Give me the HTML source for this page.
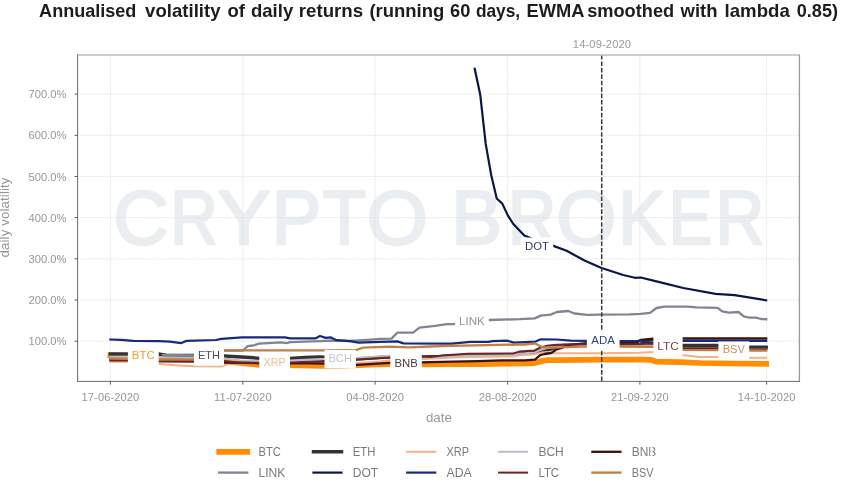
<!DOCTYPE html>
<html lang="en"><head><meta charset="utf-8">
<title>Annualised volatility of daily returns</title>
<style>html,body{margin:0;padding:0;background:#fff}svg{display:block;will-change:transform;opacity:0.999}text{font-family:"Liberation Sans", sans-serif}</style></head><body>
<svg width="841" height="489" viewBox="0 0 841 489">
<rect x="0" y="0" width="841" height="489" fill="#ffffff"/>
<text id="title" y="17" font-size="18.2" font-weight="bold" fill="#1c1c1c"><tspan x="39.10" textLength="97.30" lengthAdjust="spacingAndGlyphs">Annualised</tspan> <tspan x="145.10" textLength="75.40" lengthAdjust="spacingAndGlyphs">volatility</tspan> <tspan x="227.50" textLength="17.40" lengthAdjust="spacingAndGlyphs">of</tspan> <tspan x="251.00" textLength="42.20" lengthAdjust="spacingAndGlyphs">daily</tspan> <tspan x="298.80" textLength="64.30" lengthAdjust="spacingAndGlyphs">returns</tspan> <tspan x="369.40" textLength="74.90" lengthAdjust="spacingAndGlyphs">(running</tspan> <tspan x="450.00" textLength="20.30" lengthAdjust="spacingAndGlyphs">60</tspan> <tspan x="475.90" textLength="44.30" lengthAdjust="spacingAndGlyphs">days,</tspan> <tspan x="526.50" textLength="57.20" lengthAdjust="spacingAndGlyphs">EWMA</tspan> <tspan x="587.20" textLength="87.00" lengthAdjust="spacingAndGlyphs">smoothed</tspan> <tspan x="680.60" textLength="36.90" lengthAdjust="spacingAndGlyphs">with</tspan> <tspan x="724.60" textLength="65.20" lengthAdjust="spacingAndGlyphs">lambda</tspan> <tspan x="796.80" textLength="41.20" lengthAdjust="spacingAndGlyphs">0.85)</tspan></text>
<text y="244.3" font-size="75.5" fill="#eaeef1" stroke="#eaeef1" stroke-width="2.4" stroke-linejoin="round"><tspan x="113.50" textLength="55.10" lengthAdjust="spacingAndGlyphs">C</tspan><tspan x="170.33" textLength="47.61" lengthAdjust="spacingAndGlyphs">R</tspan><tspan x="217.65" textLength="52.64" lengthAdjust="spacingAndGlyphs">Y</tspan><tspan x="271.83" textLength="49.63" lengthAdjust="spacingAndGlyphs">P</tspan><tspan x="322.81" textLength="43.26" lengthAdjust="spacingAndGlyphs">T</tspan><tspan x="366.72" textLength="61.04" lengthAdjust="spacingAndGlyphs">O</tspan> <tspan x="451.15" textLength="50.75" lengthAdjust="spacingAndGlyphs">B</tspan><tspan x="507.98" textLength="48.43" lengthAdjust="spacingAndGlyphs">R</tspan><tspan x="556.42" textLength="59.96" lengthAdjust="spacingAndGlyphs">O</tspan><tspan x="618.57" textLength="46.98" lengthAdjust="spacingAndGlyphs">K</tspan><tspan x="668.68" textLength="43.53" lengthAdjust="spacingAndGlyphs">E</tspan><tspan x="715.70" textLength="48.49" lengthAdjust="spacingAndGlyphs">R</tspan></text>
<g stroke="#dedede" stroke-width="0.7" stroke-dasharray="1.7 0.8" fill="none">
<line x1="77.6" y1="94.1" x2="799.4" y2="94.1"/>
<line x1="77.6" y1="135.3" x2="799.4" y2="135.3"/>
<line x1="77.6" y1="176.5" x2="799.4" y2="176.5"/>
<line x1="77.6" y1="217.6" x2="799.4" y2="217.6"/>
<line x1="77.6" y1="258.8" x2="799.4" y2="258.8"/>
<line x1="77.6" y1="300.0" x2="799.4" y2="300.0"/>
<line x1="77.6" y1="341.2" x2="799.4" y2="341.2"/>
<line x1="110.4" y1="55.0" x2="110.4" y2="381.4"/>
<line x1="242.8" y1="55.0" x2="242.8" y2="381.4"/>
<line x1="375.1" y1="55.0" x2="375.1" y2="381.4"/>
<line x1="507.6" y1="55.0" x2="507.6" y2="381.4"/>
<line x1="639.9" y1="55.0" x2="639.9" y2="381.4"/>
<line x1="766.6" y1="55.0" x2="766.6" y2="381.4"/>
</g>
<g fill="none" stroke-linejoin="round" stroke-linecap="square">
<polyline points="110.4,355.3 128.0,356.0 160.0,357.5 194.0,358.5 205.0,359.5 214.0,360.8 224.0,361.5 240.0,362.8 250.0,364.0 260.0,364.8 300.0,365.5 324.0,366.0 340.0,365.8 357.0,365.2 390.0,364.0 422.0,364.5 450.0,364.2 480.0,364.1 505.0,363.6 530.0,363.4 535.3,362.8 539.0,362.0 542.5,360.8 547.0,360.2 560.0,360.1 600.0,359.6 640.0,359.7 651.3,359.8 656.0,361.6 680.0,362.2 700.0,363.0 730.0,363.5 766.2,363.8" stroke="#ff8c00" stroke-width="5.7"/>
<polyline points="110.4,354.0 158.5,354.0 166.0,355.2 194.0,355.4 224.0,356.0 250.0,357.5 260.0,358.5 290.0,358.5 305.0,357.6 320.0,357.0 340.0,358.0 357.0,358.9 390.0,356.8 422.0,357.0 442.0,356.6 468.0,355.3 513.2,354.9 519.2,353.2 535.0,352.3 540.7,350.5 549.7,349.5 555.0,347.3 562.0,345.6 570.0,345.3 586.7,345.1 619.0,345.1 640.0,344.8 646.0,340.6 653.5,339.8 660.0,342.0 668.0,344.5 682.0,345.4 718.0,345.5 748.5,347.2 766.2,347.3" stroke="#333333" stroke-width="3.5"/>
<polyline points="110.4,361.7 128.0,361.8 145.0,362.8 158.5,363.7 175.0,365.2 194.0,366.2 221.0,366.4 230.0,363.6 260.0,363.5 290.0,363.5 324.0,363.4 357.0,363.0 380.0,361.4 390.0,360.2 422.0,359.0 442.0,358.0 468.0,356.9 513.0,356.4 520.0,355.2 525.0,354.9 534.5,354.3 541.0,352.6 548.8,352.1 552.6,353.3 600.0,353.3 640.0,352.7 653.5,352.1 668.0,353.0 682.0,355.1 699.7,357.1 718.0,356.9 748.5,357.7 766.2,357.7" stroke="#f4b183" stroke-width="2"/>
<polyline points="110.4,356.7 128.0,356.7 158.5,357.2 194.0,357.5 224.0,358.5 240.0,360.5 260.0,360.8 290.0,360.5 320.0,359.0 324.0,359.0 357.0,358.0 390.0,355.8 422.0,357.3 442.0,357.0 468.0,355.4 513.2,355.0 519.2,353.6 525.0,353.3 534.5,352.5 540.0,350.0 546.0,348.3 553.0,347.2 560.0,346.4 586.7,345.5 619.0,345.5 653.0,345.0 682.0,347.9 718.0,348.3 748.5,349.3 766.2,349.4" stroke="#b9bdcb" stroke-width="2"/>
<polyline points="110.4,359.5 128.0,359.5 158.5,361.0 194.0,361.3 224.0,362.5 260.0,363.3 310.0,363.3 324.0,363.5 340.0,364.6 357.0,364.8 390.0,362.8 422.0,362.4 430.0,362.1 477.6,361.2 501.3,360.3 525.0,360.4 535.0,359.7 540.2,355.2 544.5,354.0 551.2,353.0 556.4,349.5 561.2,348.1 568.0,345.2 586.7,343.2 619.0,343.2 636.0,343.2 640.7,340.0 646.0,339.3 653.5,338.6 668.0,338.4 682.0,338.5 766.2,338.5" stroke="#3b1212" stroke-width="2.3"/>
<polyline points="163.0,355.0 194.0,355.3 205.0,354.3 214.0,351.6 224.0,350.5 243.0,350.5 247.6,346.2 253.3,345.5 259.0,343.6 280.9,342.4 286.6,343.1 290.4,342.1 320.0,341.2 333.8,340.5 350.0,341.0 367.0,339.8 380.0,338.8 391.5,338.6 397.4,332.6 413.0,332.6 419.5,327.7 435.0,325.8 447.0,324.2 455.0,324.0 471.0,322.0 488.5,320.0 520.0,319.2 534.6,318.4 540.7,315.6 550.7,314.6 556.8,312.0 568.3,311.0 574.4,313.5 587.4,314.9 600.0,314.6 630.0,314.4 640.5,313.8 650.0,312.9 656.6,308.0 664.2,306.6 687.0,306.6 696.6,307.4 717.5,307.8 722.3,311.4 729.0,312.7 738.4,312.0 744.2,316.7 749.9,317.6 755.6,317.6 761.3,319.0 766.2,319.2" stroke="#80858f" stroke-width="2.3"/>
<polyline points="474.7,68.8 480.2,94.4 485.7,143.9 491.2,175.0 496.7,198.5 502.3,203.6 507.8,215.4 513.3,224.0 518.8,229.8 524.3,235.5 537.0,240.7 554.1,246.1 566.6,250.8 585.0,260.8 601.6,268.0 623.2,275.0 634.9,277.8 640.7,277.5 658.5,281.9 683.3,288.0 715.6,293.9 734.6,295.2 766.2,300.3" stroke="#0b1547" stroke-width="2.2"/>
<polyline points="110.4,339.5 121.0,339.8 133.3,340.9 159.0,341.2 170.0,341.7 181.4,343.1 186.2,340.9 215.7,340.0 221.4,338.8 242.3,337.4 285.0,337.4 290.0,338.3 315.7,338.3 320.0,336.0 325.7,337.9 330.9,337.4 336.6,340.2 350.0,341.2 358.5,342.6 380.0,341.9 397.4,341.4 403.5,343.4 451.6,343.6 460.0,342.9 470.0,341.9 488.5,341.9 492.5,341.2 507.0,340.6 513.8,342.6 525.0,342.2 535.5,341.6 540.7,339.3 556.4,339.5 570.7,340.7 586.8,340.9 619.2,341.1 636.9,341.0 640.7,340.3 646.4,343.2 655.0,343.2 668.0,342.0 682.0,340.8 766.2,340.8" stroke="#16297d" stroke-width="2.2"/>
<polyline points="110.4,360.5 128.0,360.5 158.5,361.3 194.0,361.5 224.0,361.0 240.0,362.7 260.0,362.8 290.0,362.5 320.0,361.2 324.0,361.0 357.0,359.5 390.0,357.4 422.0,356.4 430.0,357.0 441.9,355.5 468.0,353.8 513.2,353.4 519.2,351.6 534.5,350.5 540.2,347.6 546.9,345.7 556.4,344.7 586.8,344.3 619.0,344.4 640.0,344.0 653.0,343.5 668.0,346.3 682.0,347.9 718.0,348.3 748.5,349.3 766.2,349.4" stroke="#6e2323" stroke-width="2"/>
<polyline points="110.4,358.7 128.0,358.8 158.5,359.5 194.0,359.6 205.0,357.0 214.0,352.0 224.2,350.4 323.0,350.4 356.5,349.8 363.3,347.7 390.0,346.6 408.6,347.3 430.0,346.5 450.0,345.9 520.0,344.5 525.0,344.5 535.0,343.3 539.3,345.7 542.6,347.1 553.5,347.6 586.8,346.4 619.2,346.5 653.5,346.8 682.0,349.9 718.0,350.2 748.5,350.5 766.2,350.6" stroke="#c07f45" stroke-width="2.3"/>
</g>
<line x1="601.7" y1="55.0" x2="601.7" y2="381.4" stroke="#3a3a3a" stroke-width="1.5" stroke-dasharray="4.6 1.83"/>
<rect x="127.9" y="346.2" width="30.8" height="19.2" fill="#ffffff"/>
<rect x="194.0" y="346.5" width="30.0" height="19.0" fill="#ffffff"/>
<rect x="259.3" y="353.5" width="30.7" height="19.2" fill="#ffffff"/>
<rect x="324.5" y="349.9" width="31.4" height="18.5" fill="#ffffff"/>
<rect x="390.3" y="354.3" width="31.5" height="19.2" fill="#ffffff"/>
<rect x="455.1" y="312.0" width="33.7" height="19.2" fill="#ffffff"/>
<rect x="520.9" y="237.5" width="32.3" height="19.2" fill="#ffffff"/>
<rect x="586.8" y="331.4" width="32.8" height="19.2" fill="#ffffff"/>
<rect x="653.4" y="336.7" width="29.2" height="19.2" fill="#ffffff"/>
<rect x="718.4" y="341.4" width="30.8" height="18.3" fill="#ffffff"/>
<text class="il" x="143.30" y="359.06" text-anchor="middle" font-size="11.8" fill="#ff8c00" fill-opacity="0.88" textLength="23.0" lengthAdjust="spacingAndGlyphs">BTC</text>
<text class="il" x="209.00" y="359.36" text-anchor="middle" font-size="11.8" fill="#333333" fill-opacity="0.88" textLength="22.0" lengthAdjust="spacingAndGlyphs">ETH</text>
<text class="il" x="274.65" y="366.36" text-anchor="middle" font-size="11.8" fill="#f4b183" fill-opacity="0.88" textLength="22.1" lengthAdjust="spacingAndGlyphs">XRP</text>
<text class="il" x="340.20" y="362.06" text-anchor="middle" font-size="11.8" fill="#b9bdcb" fill-opacity="0.88" textLength="23.5" lengthAdjust="spacingAndGlyphs">BCH</text>
<text class="il" x="406.05" y="367.16" text-anchor="middle" font-size="11.8" fill="#3b1212" fill-opacity="0.88" textLength="23.3" lengthAdjust="spacingAndGlyphs">BNB</text>
<text class="il" x="471.95" y="324.86" text-anchor="middle" font-size="11.8" fill="#80858f" fill-opacity="0.88" textLength="25.8" lengthAdjust="spacingAndGlyphs">LINK</text>
<text class="il" x="537.00" y="250.36" text-anchor="middle" font-size="11.8" fill="#0b1547" fill-opacity="0.88" textLength="23.9" lengthAdjust="spacingAndGlyphs">DOT</text>
<text class="il" x="603.20" y="344.26" text-anchor="middle" font-size="11.8" fill="#16297d" fill-opacity="0.88" textLength="23.7" lengthAdjust="spacingAndGlyphs">ADA</text>
<text class="il" x="668.00" y="349.56" text-anchor="middle" font-size="11.8" fill="#6e2323" fill-opacity="0.88" textLength="21.4" lengthAdjust="spacingAndGlyphs">LTC</text>
<text class="il" x="733.80" y="353.31" text-anchor="middle" font-size="11.8" fill="#c07f45" fill-opacity="0.88" textLength="22.3" lengthAdjust="spacingAndGlyphs">BSV</text>
<line x1="77.6" y1="55.0" x2="800.1" y2="55.0" stroke="#bdbdbd" stroke-width="1.5"/>
<line x1="799.4" y1="55.0" x2="799.4" y2="381.9" stroke="#9a9a9a" stroke-width="1.3"/>
<line x1="77.6" y1="54.3" x2="77.6" y2="381.9" stroke="#6a6a6a" stroke-width="1"/>
<line x1="77.1" y1="381.4" x2="800.0" y2="381.4" stroke="#6a6a6a" stroke-width="1"/>
<g stroke="#5a5a5a" stroke-width="1">
<line x1="74.6" y1="94.1" x2="77.6" y2="94.1"/>
<line x1="74.6" y1="135.3" x2="77.6" y2="135.3"/>
<line x1="74.6" y1="176.5" x2="77.6" y2="176.5"/>
<line x1="74.6" y1="217.6" x2="77.6" y2="217.6"/>
<line x1="74.6" y1="258.8" x2="77.6" y2="258.8"/>
<line x1="74.6" y1="300.0" x2="77.6" y2="300.0"/>
<line x1="74.6" y1="341.2" x2="77.6" y2="341.2"/>
<line x1="110.4" y1="381.4" x2="110.4" y2="384.59999999999997"/>
<line x1="242.8" y1="381.4" x2="242.8" y2="384.59999999999997"/>
<line x1="375.1" y1="381.4" x2="375.1" y2="384.59999999999997"/>
<line x1="507.6" y1="381.4" x2="507.6" y2="384.59999999999997"/>
<line x1="639.9" y1="381.4" x2="639.9" y2="384.59999999999997"/>
<line x1="766.6" y1="381.4" x2="766.6" y2="384.59999999999997"/>
</g>
<g font-size="11.15" fill="#969696">
<text x="66.4" y="98.2" text-anchor="end">700.0%</text>
<text x="66.4" y="139.4" text-anchor="end">600.0%</text>
<text x="66.4" y="180.6" text-anchor="end">500.0%</text>
<text x="66.4" y="221.7" text-anchor="end">400.0%</text>
<text x="66.4" y="262.9" text-anchor="end">300.0%</text>
<text x="66.4" y="304.1" text-anchor="end">200.0%</text>
<text x="66.4" y="345.3" text-anchor="end">100.0%</text>
<text x="110.4" y="401.2" text-anchor="middle" textLength="57.6" lengthAdjust="spacing">17-06-2020</text>
<text x="242.8" y="401.2" text-anchor="middle" textLength="57.6" lengthAdjust="spacing">11-07-2020</text>
<text x="375.1" y="401.2" text-anchor="middle" textLength="57.6" lengthAdjust="spacing">04-08-2020</text>
<text x="507.6" y="401.2" text-anchor="middle" textLength="57.6" lengthAdjust="spacing">28-08-2020</text>
<text x="639.9" y="401.2" text-anchor="middle" textLength="57.6" lengthAdjust="spacing">21-09-2020</text>
<text x="766.6" y="401.2" text-anchor="middle" textLength="57.6" lengthAdjust="spacing">14-10-2020</text>
<text x="601.9" y="48.3" text-anchor="middle" fill="#9b9b9b" textLength="58.2" lengthAdjust="spacing">14-09-2020</text>
</g>
<text x="438.9" y="422.4" text-anchor="middle" font-size="13.3" fill="#969696">date</text>
<text transform="translate(9.4 217.5) rotate(-90)" text-anchor="middle" font-size="13.3" fill="#969696" textLength="80" lengthAdjust="spacing">daily volatility</text>
<g stroke-linecap="square" fill="none">
<line x1="219.2" y1="451.8" x2="247.2" y2="451.8" stroke="#ff8c00" stroke-width="5.7"/>
<line x1="219.2" y1="472.6" x2="247.2" y2="472.6" stroke="#80858f" stroke-width="2.3"/>
<line x1="313.5" y1="451.8" x2="341.5" y2="451.8" stroke="#333333" stroke-width="3.5"/>
<line x1="313.5" y1="472.6" x2="341.5" y2="472.6" stroke="#0b1547" stroke-width="2.2"/>
<line x1="407.2" y1="451.8" x2="435.2" y2="451.8" stroke="#f4b183" stroke-width="2"/>
<line x1="407.2" y1="472.6" x2="435.2" y2="472.6" stroke="#16297d" stroke-width="2.2"/>
<line x1="499.1" y1="451.8" x2="527.1" y2="451.8" stroke="#b9bdcb" stroke-width="2"/>
<line x1="499.1" y1="472.6" x2="527.1" y2="472.6" stroke="#6e2323" stroke-width="2"/>
<line x1="592.4" y1="451.8" x2="620.4" y2="451.8" stroke="#3b1212" stroke-width="2.3"/>
<line x1="592.4" y1="472.6" x2="620.4" y2="472.6" stroke="#c07f45" stroke-width="2.3"/>
</g>
<g font-size="12.6" fill="#7a7a7a">
<text x="258.5" y="456.4" textLength="22.2" lengthAdjust="spacingAndGlyphs">BTC</text>
<text x="258.5" y="477.2" textLength="26.9" lengthAdjust="spacingAndGlyphs">LINK</text>
<text x="352.8" y="456.4" textLength="22.7" lengthAdjust="spacingAndGlyphs">ETH</text>
<text x="352.8" y="477.2" textLength="25.4" lengthAdjust="spacingAndGlyphs">DOT</text>
<text x="446.5" y="456.4" textLength="22.6" lengthAdjust="spacingAndGlyphs">XRP</text>
<text x="446.5" y="477.2" textLength="25.3" lengthAdjust="spacingAndGlyphs">ADA</text>
<text x="538.4" y="456.4" textLength="25.3" lengthAdjust="spacingAndGlyphs">BCH</text>
<text x="538.4" y="477.2" textLength="20.7" lengthAdjust="spacingAndGlyphs">LTC</text>
<text x="631.7" y="456.4" textLength="24.6" lengthAdjust="spacingAndGlyphs">BNB</text>
<text x="631.7" y="477.2" textLength="21.8" lengthAdjust="spacingAndGlyphs">BSV</text>
</g>
<rect x="649.6" y="390" width="2.7" height="13" fill="#ffffff"/>
<rect x="650.4" y="444" width="2.1" height="15" fill="#ffffff"/>
</svg></body></html>
